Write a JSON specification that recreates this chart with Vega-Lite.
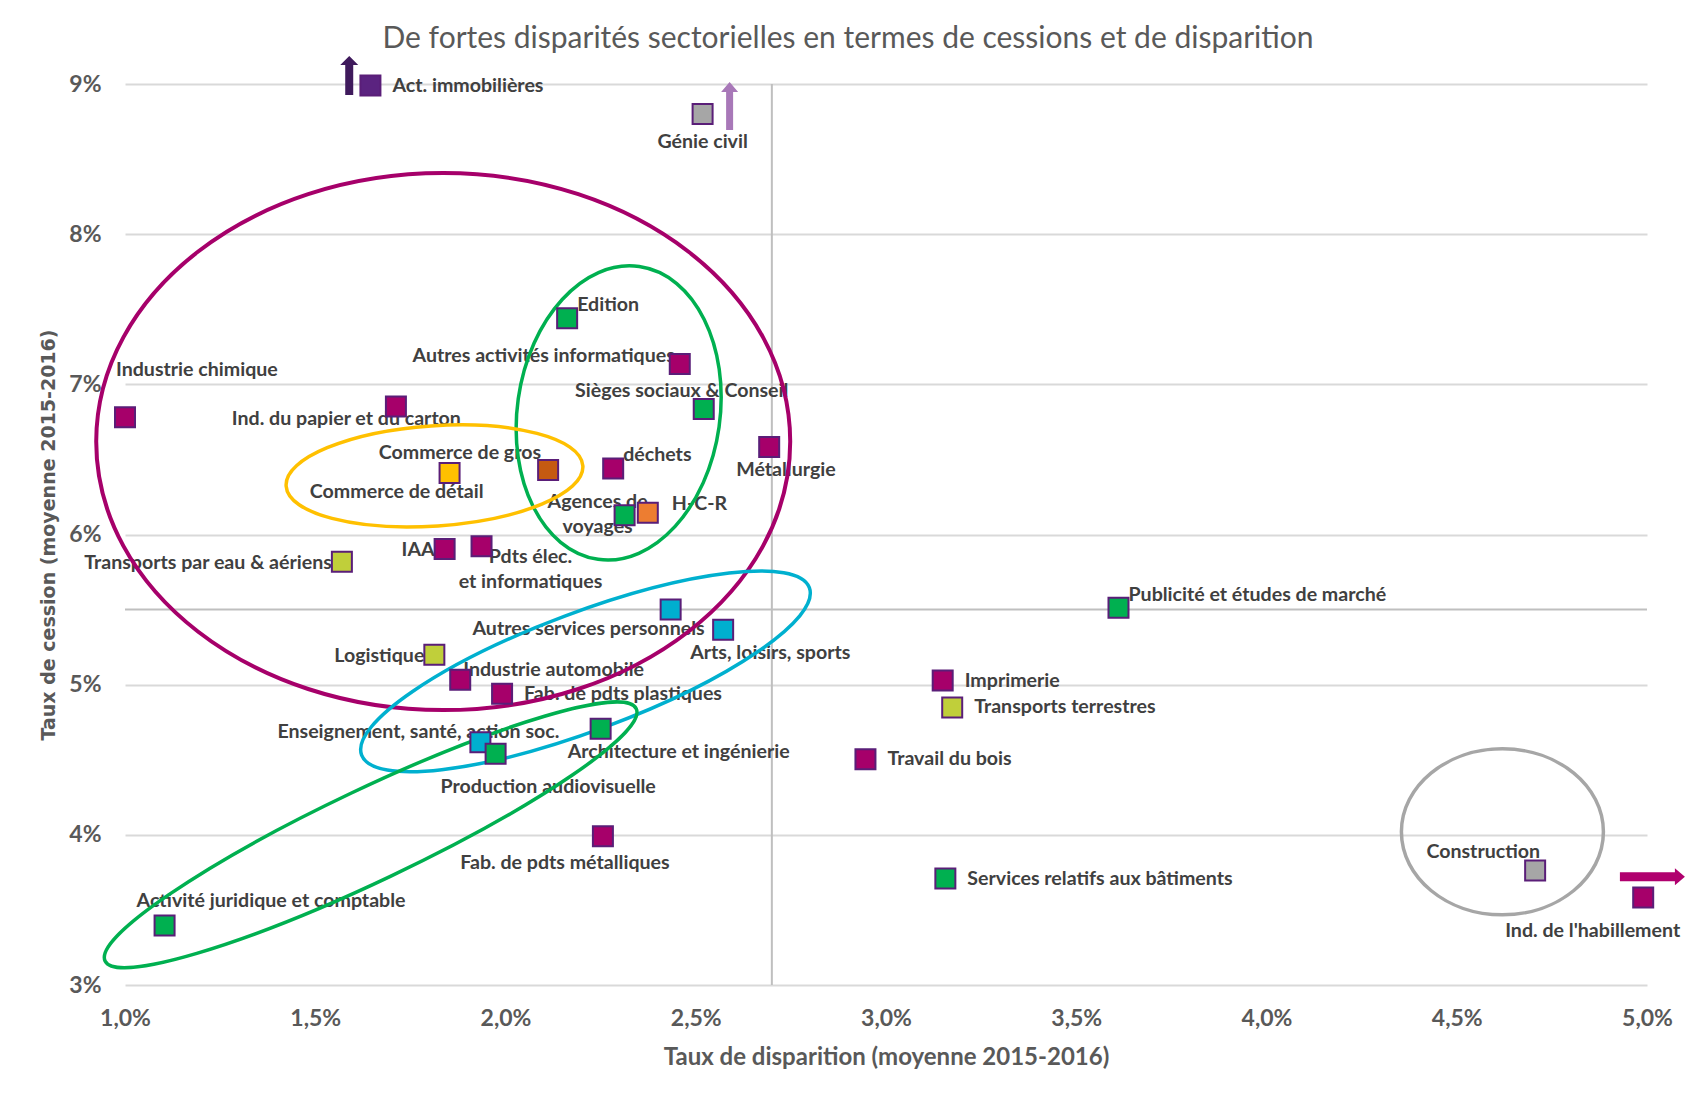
{
  "$schema": "https://vega.github.io/schema/vega-lite/v6.json",
  "width": 1522,
  "height": 901,
  "autosize": {"type": "none"},
  "padding": {"left": 125, "top": 84, "right": 44, "bottom": 114},
  "background": "white",
  "title": {
    "text": "De fortes disparités sectorielles en termes de cessions et de disparition",
    "frame": "group",
    "anchor": "middle",
    "dx": -38,
    "offset": 2,
    "font": "Lato",
    "fontSize": 30,
    "fontWeight": "normal",
    "color": "#595959"
  },
  "config": {"view": {"stroke": null}, "font": "Lato"},
  "datasets": {
    "points": [
      {"name": "Act. immobilières", "x": 1.645, "y": 8.99, "cat": "Immobilier", "pos": "r"},
      {"name": "Génie civil", "x": 2.518, "y": 8.80, "cat": "Construction", "pos": "b"},
      {"name": "Edition", "x": 2.162, "y": 7.44, "cat": "Services aux entreprises", "pos": "tr"},
      {"name": "Autres activités informatiques", "x": 2.458, "y": 7.136, "cat": "Industrie", "pos": "tl"},
      {"name": "Sièges sociaux & Conseil", "x": 2.521, "y": 6.836, "cat": "Services aux entreprises", "pos": "sieges"},
      {"name": "Industrie chimique", "x": 1.0, "y": 6.78, "cat": "Industrie", "pos": "chim"},
      {"name": "Ind. du papier et du carton", "x": 1.712, "y": 6.853, "cat": "Industrie", "pos": "papier"},
      {"name": "Métallurgie", "x": 2.693, "y": 6.583, "cat": "Industrie", "pos": "br"},
      {"name": "Commerce de gros", "x": 2.112, "y": 6.43, "cat": "Commerce de gros", "pos": "gros"},
      {"name": "Commerce de détail", "x": 1.853, "y": 6.41, "cat": "Commerce de détail", "pos": "bR"},
      {"name": "déchets", "x": 2.283, "y": 6.44, "cat": "Industrie", "pos": "tr"},
      {"name": "Agences de\nvoyages", "x": 2.313, "y": 6.128, "cat": "Services aux entreprises", "pos": "agences"},
      {"name": "H-C-R", "x": 2.374, "y": 6.145, "cat": "Hébergement-restauration", "pos": "hcr"},
      {"name": "IAA", "x": 1.84, "y": 5.904, "cat": "Industrie", "pos": "l"},
      {"name": "Pdts élec.\net informatiques", "x": 1.937, "y": 5.922, "cat": "Industrie", "pos": "pdts"},
      {"name": "Transports par eau & aériens", "x": 1.57, "y": 5.818, "cat": "Transports", "pos": "l"},
      {"name": "Autres services personnels", "x": 2.434, "y": 5.50, "cat": "Services aux particuliers", "pos": "bR"},
      {"name": "Arts, loisirs, sports", "x": 2.572, "y": 5.366, "cat": "Services aux particuliers", "pos": "br"},
      {"name": "Logistique", "x": 1.813, "y": 5.20, "cat": "Transports", "pos": "l"},
      {"name": "Industrie automobile", "x": 1.881, "y": 5.033, "cat": "Industrie", "pos": "auto"},
      {"name": "Fab. de pdts plastiques", "x": 1.991, "y": 4.94, "cat": "Industrie", "pos": "r"},
      {"name": "Architecture et ingénierie", "x": 2.25, "y": 4.706, "cat": "Services aux entreprises", "pos": "br"},
      {"name": "Enseignement, santé, action soc.", "x": 1.934, "y": 4.616, "cat": "Services aux particuliers", "pos": "enseign"},
      {"name": "Production audiovisuelle", "x": 1.974, "y": 4.54, "cat": "Services aux entreprises", "pos": "bl"},
      {"name": "Fab. de pdts métalliques", "x": 2.256, "y": 3.99, "cat": "Industrie", "pos": "metal"},
      {"name": "Activité juridique et comptable", "x": 1.104, "y": 3.396, "cat": "Services aux entreprises", "pos": "juri"},
      {"name": "Publicité et études de marché", "x": 3.611, "y": 5.513, "cat": "Services aux entreprises", "pos": "tr"},
      {"name": "Imprimerie", "x": 3.149, "y": 5.027, "cat": "Industrie", "pos": "r"},
      {"name": "Transports terrestres", "x": 3.174, "y": 4.848, "cat": "Transports", "pos": "r"},
      {"name": "Travail du bois", "x": 2.946, "y": 4.504, "cat": "Industrie", "pos": "r"},
      {"name": "Services relatifs aux bâtiments", "x": 3.156, "y": 3.709, "cat": "Services aux entreprises", "pos": "r"},
      {"name": "Construction", "x": 4.706, "y": 3.762, "cat": "Construction", "pos": "constr"},
      {"name": "Ind. de l'habillement", "x": 4.99, "y": 3.583, "cat": "Industrie", "pos": "habill"}
    ],
    "ellipses": [
      {"id": "industrie", "x": 1.8363, "y": 6.6185},
      {"id": "services_haut", "x": 2.2974, "y": 6.8096},
      {"id": "commerce", "x": 1.8134, "y": 6.3901},
      {"id": "particuliers", "x": 2.2102, "y": 5.0885},
      {"id": "services_bas", "x": 1.6456, "y": 4.0},
      {"id": "construction", "x": 4.62, "y": 4.02}
    ],
    "arrows": [
      {"id": "immobilier", "x": 1.5893, "y": 9.0566},
      {"id": "genie", "x": 2.589, "y": 8.8535},
      {"id": "habillement", "x": 5.0142, "y": 3.7204}
    ],
    "refs": [
      {"x": 2.7, "x2": 2.7, "y": 3, "y2": 9},
      {"x": 1, "x2": 5, "y": 5.5, "y2": 5.5}
    ]
  },
  "encoding": {
    "x": {
      "field": "x",
      "type": "quantitative",
      "scale": {"domain": [1, 5], "nice": false, "zero": false},
      "axis": {
        "values": [1, 1.5, 2, 2.5, 3, 3.5, 4, 4.5, 5],
        "labelExpr": "replace(format(datum.value, '.1f'), '.', ',') + '%'",
        "grid": false,
        "domain": false,
        "ticks": false,
        "tickSize": 0,
        "labelPadding": 22,
        "labelFlush": false,
        "labelFont": "Lato",
        "labelFontSize": 23,
        "labelFontWeight": "bold",
        "labelColor": "#595959",
        "title": "Taux de disparition (moyenne 2015-2016)",
        "titleFont": "Lato",
        "titleFontSize": 24,
        "titleFontWeight": "bold",
        "titleColor": "#595959",
        "titlePadding": 15
      }
    },
    "y": {
      "field": "y",
      "type": "quantitative",
      "scale": {"domain": [3, 9], "nice": false, "zero": false},
      "axis": {
        "values": [3, 4, 5, 6, 7, 8, 9],
        "labelExpr": "format(datum.value, 'd') + '%'",
        "grid": true,
        "gridColor": "#D9D9D9",
        "gridWidth": 2,
        "domain": false,
        "ticks": false,
        "tickSize": 0,
        "labelPadding": 24,
        "labelFlush": false,
        "labelFont": "Lato",
        "labelFontSize": 23,
        "labelFontWeight": "bold",
        "labelColor": "#595959",
        "title": "Taux de cession  (moyenne 2015-2016)",
        "titleFont": "DejaVu Sans",
        "titleFontSize": 19,
        "titleFontWeight": "bold",
        "titleColor": "#595959",
        "titlePadding": 10
      }
    }
  },
  "layer": [
    {
      "data": {"name": "refs"},
      "mark": {"type": "rule", "color": "#BFBFBF", "strokeWidth": 2},
      "encoding": {"x2": {"field": "x2"}, "y2": {"field": "y2"}}
    },
    {
      "data": {"name": "points"},
      "encoding": {"text": {"field": "name", "type": "nominal"}},
      "layer": [
        {"transform": [{"filter": "datum.pos === 'r'"}], "mark": {"type": "text", "align": "left", "dx": 22, "dy": 0, "baseline": "middle", "font": "Lato", "fontSize": 19.6, "fontWeight": "bold", "color": "#404040", "lineBreak": "\n", "lineHeight": 25}},
        {"transform": [{"filter": "datum.pos === 'l'"}], "mark": {"type": "text", "align": "right", "dx": -10, "dy": 1, "baseline": "middle", "font": "Lato", "fontSize": 19.6, "fontWeight": "bold", "color": "#404040", "lineBreak": "\n", "lineHeight": 25}},
        {"transform": [{"filter": "datum.pos === 'b'"}], "mark": {"type": "text", "align": "center", "dx": 0, "dy": 28, "baseline": "middle", "font": "Lato", "fontSize": 19.6, "fontWeight": "bold", "color": "#404040", "lineBreak": "\n", "lineHeight": 25}},
        {"transform": [{"filter": "datum.pos === 'br'"}], "mark": {"type": "text", "align": "left", "dx": -33, "dy": 23, "baseline": "middle", "font": "Lato", "fontSize": 19.6, "fontWeight": "bold", "color": "#404040", "lineBreak": "\n", "lineHeight": 25}},
        {"transform": [{"filter": "datum.pos === 'bl'"}], "mark": {"type": "text", "align": "left", "dx": -55, "dy": 33, "baseline": "middle", "font": "Lato", "fontSize": 19.6, "fontWeight": "bold", "color": "#404040", "lineBreak": "\n", "lineHeight": 25}},
        {"transform": [{"filter": "datum.pos === 'metal'"}], "mark": {"type": "text", "align": "center", "dx": -38, "dy": 27, "baseline": "middle", "font": "Lato", "fontSize": 19.6, "fontWeight": "bold", "color": "#404040", "lineBreak": "\n", "lineHeight": 25}},
        {"transform": [{"filter": "datum.pos === 'bR'"}], "mark": {"type": "text", "align": "right", "dx": 34, "dy": 19, "baseline": "middle", "font": "Lato", "fontSize": 19.6, "fontWeight": "bold", "color": "#404040", "lineBreak": "\n", "lineHeight": 25}},
        {"transform": [{"filter": "datum.pos === 'tr'"}], "mark": {"type": "text", "align": "left", "dx": 10, "dy": -13, "baseline": "middle", "font": "Lato", "fontSize": 19.6, "fontWeight": "bold", "color": "#404040", "lineBreak": "\n", "lineHeight": 25}},
        {"transform": [{"filter": "datum.pos === 'auto'"}], "mark": {"type": "text", "align": "left", "dx": 3, "dy": -10, "baseline": "middle", "font": "Lato", "fontSize": 19.6, "fontWeight": "bold", "color": "#404040", "lineBreak": "\n", "lineHeight": 25}},
        {"transform": [{"filter": "datum.pos === 'tl'"}], "mark": {"type": "text", "align": "right", "dx": -5, "dy": -8, "baseline": "middle", "font": "Lato", "fontSize": 19.6, "fontWeight": "bold", "color": "#404040", "lineBreak": "\n", "lineHeight": 25}},
        {"transform": [{"filter": "datum.pos === 'gros'"}], "mark": {"type": "text", "align": "right", "dx": -7, "dy": -17, "baseline": "middle", "font": "Lato", "fontSize": 19.6, "fontWeight": "bold", "color": "#404040", "lineBreak": "\n", "lineHeight": 25}},
        {"transform": [{"filter": "datum.pos === 'sieges'"}], "mark": {"type": "text", "align": "center", "dx": -22, "dy": -18, "baseline": "middle", "font": "Lato", "fontSize": 19.6, "fontWeight": "bold", "color": "#404040", "lineBreak": "\n", "lineHeight": 25}},
        {"transform": [{"filter": "datum.pos === 'chim'"}], "mark": {"type": "text", "align": "left", "dx": -9, "dy": -47, "baseline": "middle", "font": "Lato", "fontSize": 19.6, "fontWeight": "bold", "color": "#404040", "lineBreak": "\n", "lineHeight": 25}},
        {"transform": [{"filter": "datum.pos === 'papier'"}], "mark": {"type": "text", "align": "right", "dx": 65, "dy": 13, "baseline": "middle", "font": "Lato", "fontSize": 19.6, "fontWeight": "bold", "color": "#404040", "lineBreak": "\n", "lineHeight": 25}},
        {"transform": [{"filter": "datum.pos === 'agences'"}], "mark": {"type": "text", "align": "center", "dx": -27, "dy": -13, "baseline": "middle", "font": "Lato", "fontSize": 19.6, "fontWeight": "bold", "color": "#404040", "lineBreak": "\n", "lineHeight": 25}},
        {"transform": [{"filter": "datum.pos === 'hcr'"}], "mark": {"type": "text", "align": "left", "dx": 24, "dy": -9, "baseline": "middle", "font": "Lato", "fontSize": 19.6, "fontWeight": "bold", "color": "#404040", "lineBreak": "\n", "lineHeight": 25}},
        {"transform": [{"filter": "datum.pos === 'pdts'"}], "mark": {"type": "text", "align": "center", "dx": 49, "dy": 10.5, "baseline": "middle", "font": "Lato", "fontSize": 19.6, "fontWeight": "bold", "color": "#404040", "lineBreak": "\n", "lineHeight": 25}},
        {"transform": [{"filter": "datum.pos === 'enseign'"}], "mark": {"type": "text", "align": "right", "dx": 79, "dy": -10, "baseline": "middle", "font": "Lato", "fontSize": 19.6, "fontWeight": "bold", "color": "#404040", "lineBreak": "\n", "lineHeight": 25}},
        {"transform": [{"filter": "datum.pos === 'juri'"}], "mark": {"type": "text", "align": "left", "dx": -28, "dy": -25, "baseline": "middle", "font": "Lato", "fontSize": 19.6, "fontWeight": "bold", "color": "#404040", "lineBreak": "\n", "lineHeight": 25}},
        {"transform": [{"filter": "datum.pos === 'constr'"}], "mark": {"type": "text", "align": "right", "dx": 5, "dy": -18.5, "baseline": "middle", "font": "Lato", "fontSize": 19.6, "fontWeight": "bold", "color": "#404040", "lineBreak": "\n", "lineHeight": 25}},
        {"transform": [{"filter": "datum.pos === 'habill'"}], "mark": {"type": "text", "align": "right", "dx": 37, "dy": 33.5, "baseline": "middle", "font": "Lato", "fontSize": 19.6, "fontWeight": "bold", "color": "#404040", "lineBreak": "\n", "lineHeight": 25}}
      ]
    },
    {
      "data": {"name": "ellipses"},
      "transform": [{"filter": "datum.id === 'industrie'"}],
      "mark": {"type": "point", "shape": "M -347 0 C -347 -148.3 -191.6 -268.5 0 -268.5 C 191.6 -268.5 347 -148.3 347 0 C 347 148.3 191.6 268.5 0 268.5 C -191.6 268.5 -347 148.3 -347 0 Z", "size": 4, "filled": false, "stroke": "#A6006A", "strokeWidth": 4, "opacity": 1, "angle": 0},
      "encoding": {}
    },
    {
      "data": {"name": "ellipses"},
      "transform": [{"filter": "datum.id === 'services_haut'"}],
      "mark": {"type": "point", "shape": "M -101.4 0 C -101.4 -81.6 -56 -147.8 0 -147.8 C 56 -147.8 101.4 -81.6 101.4 0 C 101.4 81.6 56 147.8 0 147.8 C -56 147.8 -101.4 81.6 -101.4 0 Z", "size": 4, "filled": false, "stroke": "#00B050", "strokeWidth": 3.5, "opacity": 1, "angle": 8},
      "encoding": {}
    },
    {
      "data": {"name": "ellipses"},
      "transform": [{"filter": "datum.id === 'commerce'"}],
      "mark": {"type": "point", "shape": "M -148.7 0 C -148.7 -27.7 -82.1 -50.1 0 -50.1 C 82.1 -50.1 148.7 -27.7 148.7 0 C 148.7 27.7 82.1 50.1 0 50.1 C -82.1 50.1 -148.7 27.7 -148.7 0 Z", "size": 4, "filled": false, "stroke": "#FFC000", "strokeWidth": 3.5, "opacity": 1, "angle": 356.1},
      "encoding": {}
    },
    {
      "data": {"name": "ellipses"},
      "transform": [{"filter": "datum.id === 'particuliers'"}],
      "mark": {"type": "point", "shape": "M -239 0 C -239 -32.6 -132 -59 0 -59 C 132 -59 239 -32.6 239 0 C 239 32.6 132 59 0 59 C -132 59 -239 32.6 -239 0 Z", "size": 4, "filled": false, "stroke": "#00B0CF", "strokeWidth": 3.5, "opacity": 1, "angle": 339.5},
      "encoding": {}
    },
    {
      "data": {"name": "ellipses"},
      "transform": [{"filter": "datum.id === 'services_bas'"}],
      "mark": {"type": "point", "shape": "M -294 0 C -294 -25.4 -162.4 -46 0 -46 C 162.4 -46 294 -25.4 294 0 C 294 25.4 162.4 46 0 46 C -162.4 46 -294 25.4 -294 0 Z", "size": 4, "filled": false, "stroke": "#00B050", "strokeWidth": 3.5, "opacity": 1, "angle": 334.6},
      "encoding": {}
    },
    {
      "data": {"name": "ellipses"},
      "transform": [{"filter": "datum.id === 'construction'"}],
      "mark": {"type": "point", "shape": "M -101 0 C -101 -45.8 -55.8 -83 0 -83 C 55.8 -83 101 -45.8 101 0 C 101 45.8 55.8 83 0 83 C -55.8 83 -101 45.8 -101 0 Z", "size": 4, "filled": false, "stroke": "#A6A6A6", "strokeWidth": 3.5, "opacity": 1, "angle": 0},
      "encoding": {}
    },
    {
      "data": {"name": "points"},
      "mark": {"type": "square", "size": 400, "stroke": "#5A1E78", "strokeWidth": 2, "opacity": 1, "filled": true},
      "encoding": {
        "color": {
          "field": "cat",
          "type": "nominal",
          "legend": null,
          "scale": {
            "domain": ["Industrie", "Services aux entreprises", "Services aux particuliers", "Transports", "Commerce de détail", "Commerce de gros", "Hébergement-restauration", "Construction", "Immobilier"],
            "range": ["#A6006A", "#00B050", "#00AFCF", "#C0CF3A", "#FFC000", "#C55A11", "#ED7D31", "#A6A6A6", "#5B2380"]
          }
        }
      }
    },
    {
      "data": {"name": "arrows"},
      "mark": {"type": "point", "size": 4, "filled": true, "opacity": 1, "strokeWidth": 0},
      "encoding": {
        "shape": {
          "field": "id",
          "type": "nominal",
          "legend": null,
          "scale": {
            "domain": ["immobilier", "genie", "habillement"],
            "range": [
              "M -4 19.5 L 4 19.5 L 4 -10.5 L 9 -10.5 L 0 -19.5 L -9 -10.5 L -4 -10.5 Z",
              "M -3.5 24 L 3.5 24 L 3.5 -14 L 8.5 -14 L 0 -24 L -8.5 -14 L -3.5 -14 Z",
              "M -32.5 -4.5 L 22.5 -4.5 L 22.5 -8.5 L 32.5 0 L 22.5 8.5 L 22.5 4.5 L -32.5 4.5 Z"
            ]
          }
        },
        "fill": {
          "field": "id",
          "type": "nominal",
          "legend": null,
          "scale": {
            "domain": ["immobilier", "genie", "habillement"],
            "range": ["#3F1A5C", "#A878B8", "#B0006E"]
          }
        }
      }
    }
  ]
}
